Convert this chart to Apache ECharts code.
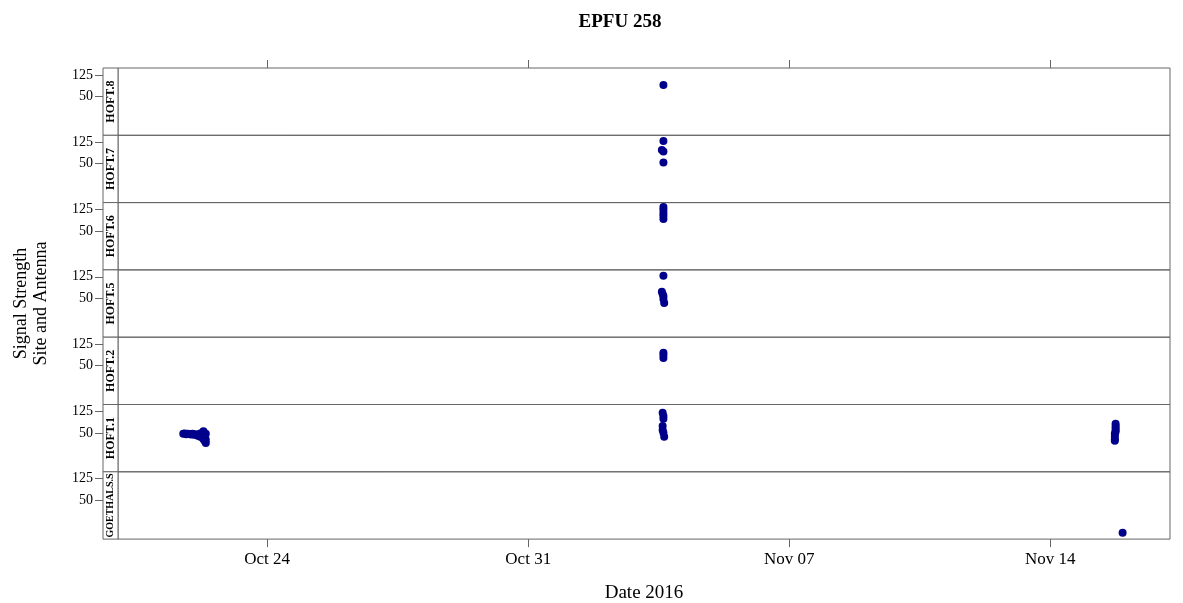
<!DOCTYPE html>
<html>
<head>
<meta charset="utf-8">
<script src="https://cdn.jsdelivr.net/npm/echarts@6/dist/echarts.min.js"></script>
<style>
  html, body { margin: 0; padding: 0; background: #fff; }
  #chart { width: 1183px; height: 603px; }
</style>
</head>
<body>
<div id="chart"></div>
<script>
// panel names, top to bottom
var panelNames = ['HOFT.8', 'HOFT.7', 'HOFT.6', 'HOFT.5', 'HOFT.2', 'HOFT.1', 'GOETHALS.S'];

// detections per panel: [time (UTC), signal]
var hoft8 = [['2016-11-03 15:00', 90]];
var hoft7 = [['2016-11-03 15:00', 129], ['2016-11-03 14:00', 98], ['2016-11-03 15:00', 92], ['2016-11-03 15:00', 54]];
var hoft6 = [['2016-11-03 15:00', 134], ['2016-11-03 15:00', 124], ['2016-11-03 15:00', 113], ['2016-11-03 15:00', 103], ['2016-11-03 15:00', 92]];
var hoft5 = [['2016-11-03 15:00', 129], ['2016-11-03 14:00', 73], ['2016-11-03 14:30', 65], ['2016-11-03 15:00', 58], ['2016-11-03 15:00', 47], ['2016-11-03 15:30', 33]];
var hoft2 = [['2016-11-03 15:00', 95], ['2016-11-03 15:00', 87], ['2016-11-03 15:00', 76]];
var hoft1 = [
  ['2016-10-21 18:00', 47], ['2016-10-21 19:00', 48], ['2016-10-21 20:00', 45], ['2016-10-21 21:00', 47],
  ['2016-10-21 22:00', 46], ['2016-10-21 23:00', 44], ['2016-10-22 00:00', 47], ['2016-10-22 01:00', 43],
  ['2016-10-22 02:00', 45], ['2016-10-22 03:00', 41], ['2016-10-22 04:00', 44], ['2016-10-22 04:30', 37],
  ['2016-10-22 05:00', 48], ['2016-10-22 05:30', 40], ['2016-10-22 06:00', 35], ['2016-10-22 06:30', 51],
  ['2016-10-22 07:00', 28], ['2016-10-22 07:00', 56], ['2016-10-22 07:30', 42], ['2016-10-22 08:00', 21],
  ['2016-10-22 08:00', 36], ['2016-10-22 08:30', 47], ['2016-10-22 08:30', 26], ['2016-10-22 08:30', 15],
  ['2016-11-03 14:30', 120], ['2016-11-03 15:00', 109], ['2016-11-03 15:00', 99], ['2016-11-03 14:30', 74],
  ['2016-11-03 14:30', 60], ['2016-11-03 15:00', 50], ['2016-11-03 15:30', 36],
  ['2016-11-15 18:00', 82], ['2016-11-15 18:00', 74], ['2016-11-15 18:00', 67], ['2016-11-15 18:00', 60],
  ['2016-11-15 18:00', 54], ['2016-11-15 17:30', 47], ['2016-11-15 17:30', 37], ['2016-11-15 17:30', 28],
  ['2016-11-15 17:30', 22]
];
var goethals = [['2016-11-15 22:30', -64]];

var panelData = [hoft8, hoft7, hoft6, hoft5, hoft2, hoft1, goethals];

// axis ticks
var dateTicks = ['2016-10-24 00:00', '2016-10-31 00:00', '2016-11-07 00:00', '2016-11-14 00:00'];
var signalTicks = [50, 125];
var months = ['Jan', 'Feb', 'Mar', 'Apr', 'May', 'Jun', 'Jul', 'Aug', 'Sep', 'Oct', 'Nov', 'Dec'];

function t(s) {
  var p = s.split(' ');
  var d = p[0].split('-');
  var h = p[1].split(':');
  return Date.UTC(+d[0], +d[1] - 1, +d[2], +h[0], +h[1]);
}

var xMin = Date.UTC(2016, 9, 20, 0);
var xMax = Date.UTC(2016, 10, 17, 5);
var tickTimes = dateTicks.map(t);

var top0 = 68, panelH = 67.3, left = 118, right = 13, stripW = 15;
var lineColor = '#666';
var serif = '"Liberation Serif", "DejaVu Serif", serif';

var grids = [], xAxes = [], yAxes = [], series = [], graphics = [];
panelNames.forEach(function (name, k) {
  var top = top0 + panelH * k;
  grids.push({
    left: left, right: right, top: top, height: panelH,
    outerBoundsMode: 'none',
    show: true, borderColor: lineColor, borderWidth: 1
  });
  var isTop = k === 0, isBottom = k === panelNames.length - 1;
  xAxes.push({
    gridIndex: k,
    type: 'value',
    min: xMin, max: xMax,
    position: isTop ? 'top' : 'bottom',
    show: isTop || isBottom,
    axisLine: { show: false, onZero: false },
    splitLine: { show: false },
    axisTick: {
      show: true, inside: false, length: 8,
      customValues: tickTimes,
      lineStyle: { color: lineColor }
    },
    axisLabel: {
      show: isBottom,
      customValues: tickTimes,
      margin: 12,
      color: '#000',
      fontFamily: serif,
      fontSize: 17,
      formatter: function (v) {
        var d = new Date(v);
        return months[d.getUTCMonth()] + ' ' + String(d.getUTCDate()).padStart(2, '0');
      }
    },
    name: isBottom ? 'Date 2016' : '',
    nameLocation: 'middle',
    nameGap: 44,
    nameTextStyle: { fontFamily: serif, fontSize: 19, color: '#000' }
  });
  yAxes.push({
    gridIndex: k,
    type: 'value',
    min: -86, max: 149,
    offset: stripW,
    axisLine: { show: false, onZero: false },
    splitLine: { show: false },
    axisTick: {
      show: true, length: 8,
      customValues: signalTicks,
      lineStyle: { color: lineColor }
    },
    axisLabel: {
      customValues: signalTicks,
      margin: 10,
      color: '#000',
      fontFamily: serif,
      fontSize: 14
    },
    name: k === 3 ? 'Signal Strength\nSite and Antenna' : '',
    nameLocation: 'middle',
    nameRotate: 90,
    nameGap: 52,
    nameTextStyle: { fontFamily: serif, fontSize: 18, color: '#000', lineHeight: 20 }
  });
  series.push({
    type: 'scatter',
    xAxisIndex: k, yAxisIndex: k,
    symbolSize: 8,
    itemStyle: { color: '#00008b', opacity: 1 },
    data: panelData[k].map(function (p) { return [t(p[0]), p[1]]; })
  });
  graphics.push({
    type: 'rect',
    shape: { x: left - stripW, y: top, width: stripW, height: panelH },
    style: { fill: '#fff', stroke: lineColor, lineWidth: 1 }
  });
  graphics.push({
    type: 'text',
    x: left - stripW / 2, y: top + panelH / 2,
    rotation: Math.PI / 2,
    style: {
      text: name, align: 'center', verticalAlign: 'middle',
      font: 'bold ' + (name.length > 7 ? 10 : 12) + 'px ' + serif, fill: '#000'
    }
  });
});

var chart = echarts.init(document.getElementById('chart'));
chart.setOption({
  animation: false,
  backgroundColor: '#fff',
  title: {
    text: 'EPFU 258',
    left: 615, top: 8,
    textAlign: 'center',
    textStyle: { fontFamily: serif, fontSize: 19, fontWeight: 'bold', color: '#000' }
  },
  grid: grids,
  xAxis: xAxes,
  yAxis: yAxes,
  series: series,
  graphic: graphics
});
</script>
</body>
</html>
